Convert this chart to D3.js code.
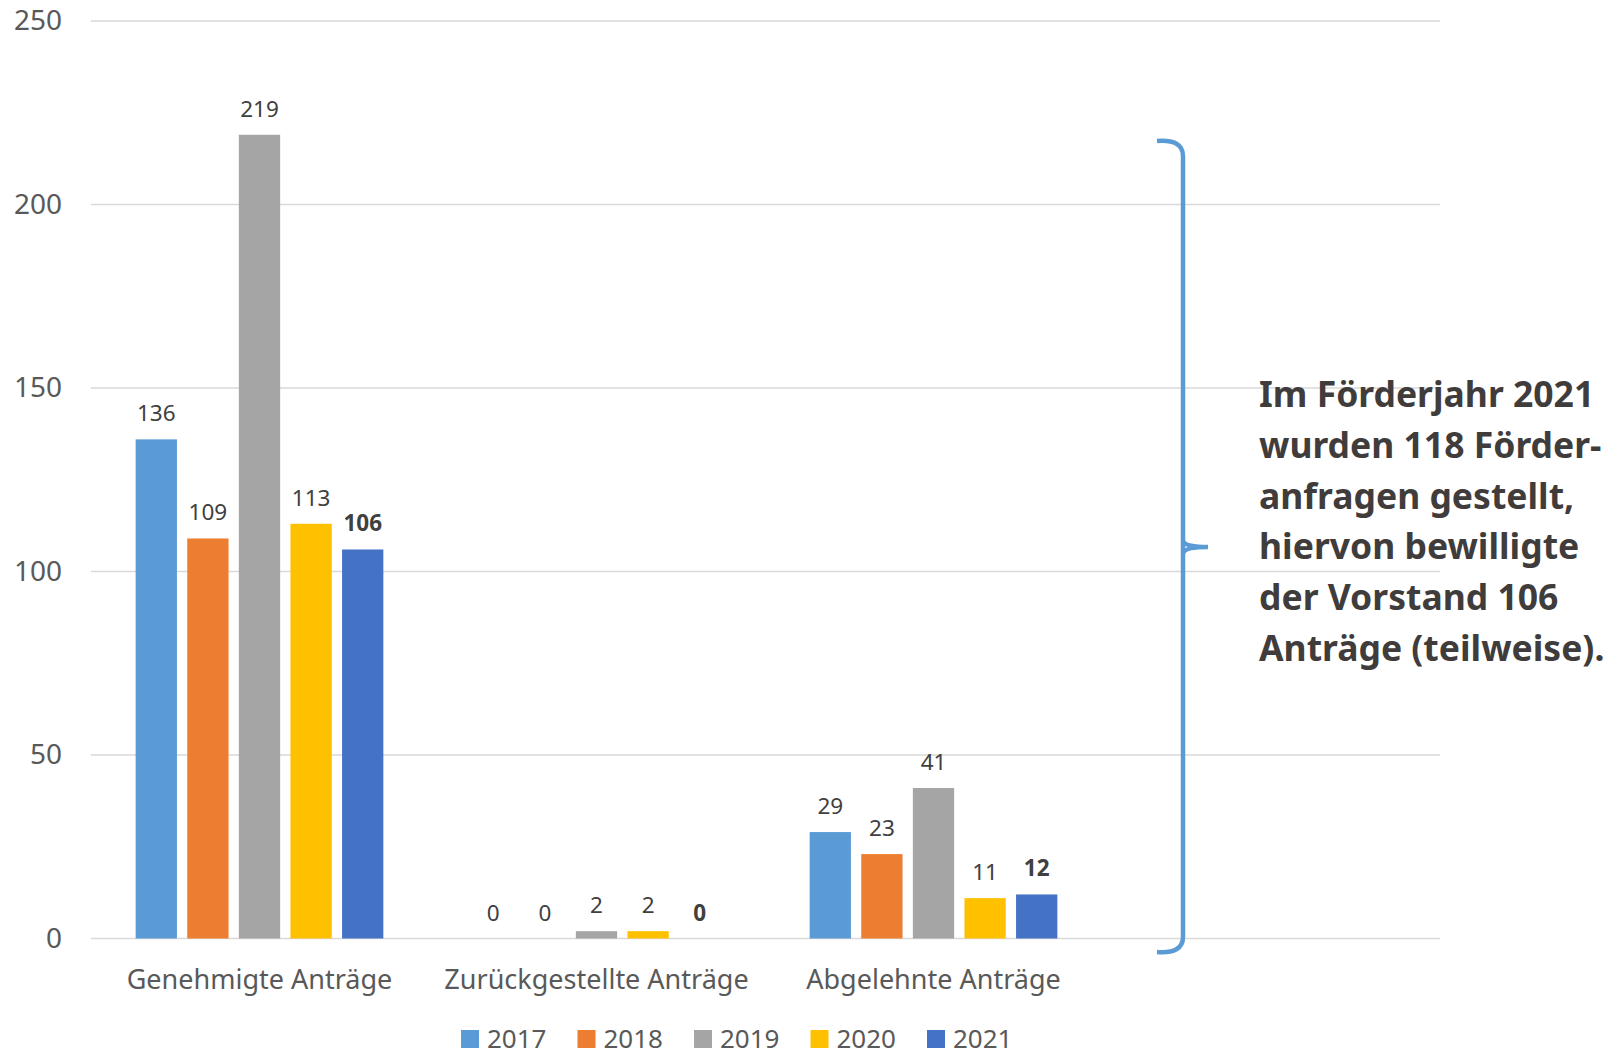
<!DOCTYPE html>
<meta charset="UTF-8">
<script src="https://d3js.org/d3.v7.min.js"></script>
<style>
body { margin: 0; background: #fff; }
text { font-family: "Noto Sans", sans-serif; }
</style>
<div id="chart"></div>
<script>

// data
var categories = ["Genehmigte Anträge", "Zurückgestellte Anträge", "Abgelehnte Anträge"]
var years = ["2017", "2018", "2019", "2020", "2021"]
var v2017 = [136, 0, 29]
var v2018 = [109, 0, 23]
var v2019 = [219, 2, 41]
var v2020 = [113, 2, 11]
var v2021 = [106, 0, 12]
var yTicks = [0, 50, 100, 150, 200, 250]
var note = ["Im Förderjahr 2021", "wurden 118 Förder-", "anfragen gestellt,", "hiervon bewilligte", "der Vorstand 106", "Anträge (teilweise)."]

var series = [v2017, v2018, v2019, v2020, v2021]
var colors = ["#5b9bd5", "#ed7d31", "#a5a5a5", "#ffc000", "#4472c4"]

var width = 1619
var height = 1056

var svg = d3.select("#chart")
    .append("svg")
        .attr("width", width)
        .attr("height", height)

// scales
var y = d3.scaleLinear().domain([0, 250]).range([938.5, 21])
var x0 = d3.scaleBand().domain(categories).range([91, 1102])
var x1 = d3.scaleBand().domain(years).range([0, 247.7]).paddingInner(0.2)
var color = d3.scaleOrdinal().domain(years).range(colors)

// gridlines
svg.append("g")
    .selectAll("line")
    .data(yTicks)
    .enter()
    .append("line")
        .attr("x1", 91)
        .attr("x2", 1440)
        .attr("y1", function(d){ return y(d) })
        .attr("y2", function(d){ return y(d) })
        .attr("stroke", "#d9d9d9")
        .attr("stroke-width", 1.6)

// y axis labels
var yAxis = svg.append("g")
    .attr("transform", "translate(62,0)")
    .call(d3.axisLeft(y).tickValues(yTicks).tickSize(0).tickPadding(0))
yAxis.select(".domain").remove()
yAxis.selectAll("text")
    .attr("fill", "#595959")
    .style("font-size", "28px")
    .style("font-family", "Noto Sans")

// bars, one group per category
var rows = []
categories.forEach(function(c, i){
    years.forEach(function(yr, j){
        rows.push({cat: c, year: yr, value: series[j][i], bold: yr == "2021"})
    })
})

function barX(d){
    return x0(d.cat) + x0.bandwidth()/2 - 247.7/2 + x1(d.year)
}

svg.append("g")
    .selectAll("rect")
    .data(rows.filter(function(d){ return d.value > 0 }))
    .enter()
    .append("rect")
        .attr("x", barX)
        .attr("y", function(d){ return y(d.value) })
        .attr("width", x1.bandwidth())
        .attr("height", function(d){ return y(0) - y(d.value) })
        .attr("fill", function(d){ return color(d.year) })

// value labels
svg.append("g")
    .selectAll("text")
    .data(rows)
    .enter()
    .append("text")
        .attr("x", function(d){ return barX(d) + x1.bandwidth()/2 })
        .attr("y", function(d){ return y(d.value) - 18 })
        .attr("text-anchor", "middle")
        .attr("fill", "#404040")
        .style("font-size", "22.5px")
        .style("font-weight", function(d){ return d.bold ? "bold" : "normal" })
        .text(function(d){ return d.value })

// category labels
var xAxis = svg.append("g")
    .attr("transform", "translate(0,989)")
    .call(d3.axisBottom(x0).tickSize(0).tickPadding(0))
xAxis.select(".domain").remove()
xAxis.selectAll("text")
    .attr("dy", 0)
    .attr("fill", "#595959")
    .style("font-size", "27px")
    .style("font-family", "Noto Sans")

// legend (kept a little up so the text box stays inside the page)
var legend = svg.append("g")
    .selectAll("g")
    .data(years)
    .enter()
    .append("g")
        .attr("transform", function(d, i){ return "translate(" + (461 + i*116.5) + ",1030)" })
legend.append("rect")
    .attr("width", 18)
    .attr("height", 18)
    .attr("fill", function(d){ return color(d) })
legend.append("text")
    .attr("x", 26)
    .attr("y", 18)
    .attr("fill", "#595959")
    .style("font-size", "26px")
    .text(function(d){ return d })

// curly brace on the right
var brace = svg.append("g")
    .attr("fill", "none")
    .attr("stroke", "#5b9bd5")
    .attr("stroke-width", 4.5)
brace.append("path")
    .attr("d", "M1157,141 Q1183,139 1183,156 L1183,937 Q1183,954 1157,952")
brace.append("path")
    .attr("d", "M1183,541 Q1185,547 1208,547 M1183,553 Q1185,547 1208,547")

// annotation
svg.append("text")
    .attr("fill", "#403c3c")
    .style("font-size", "35.5px")
    .style("font-weight", "bold")
    .selectAll("tspan")
    .data(note)
    .enter()
    .append("tspan")
        .attr("x", 1259)
        .attr("y", function(d, i){ return 407 + i*50.8 })
        .text(function(d){ return d })

</script>
